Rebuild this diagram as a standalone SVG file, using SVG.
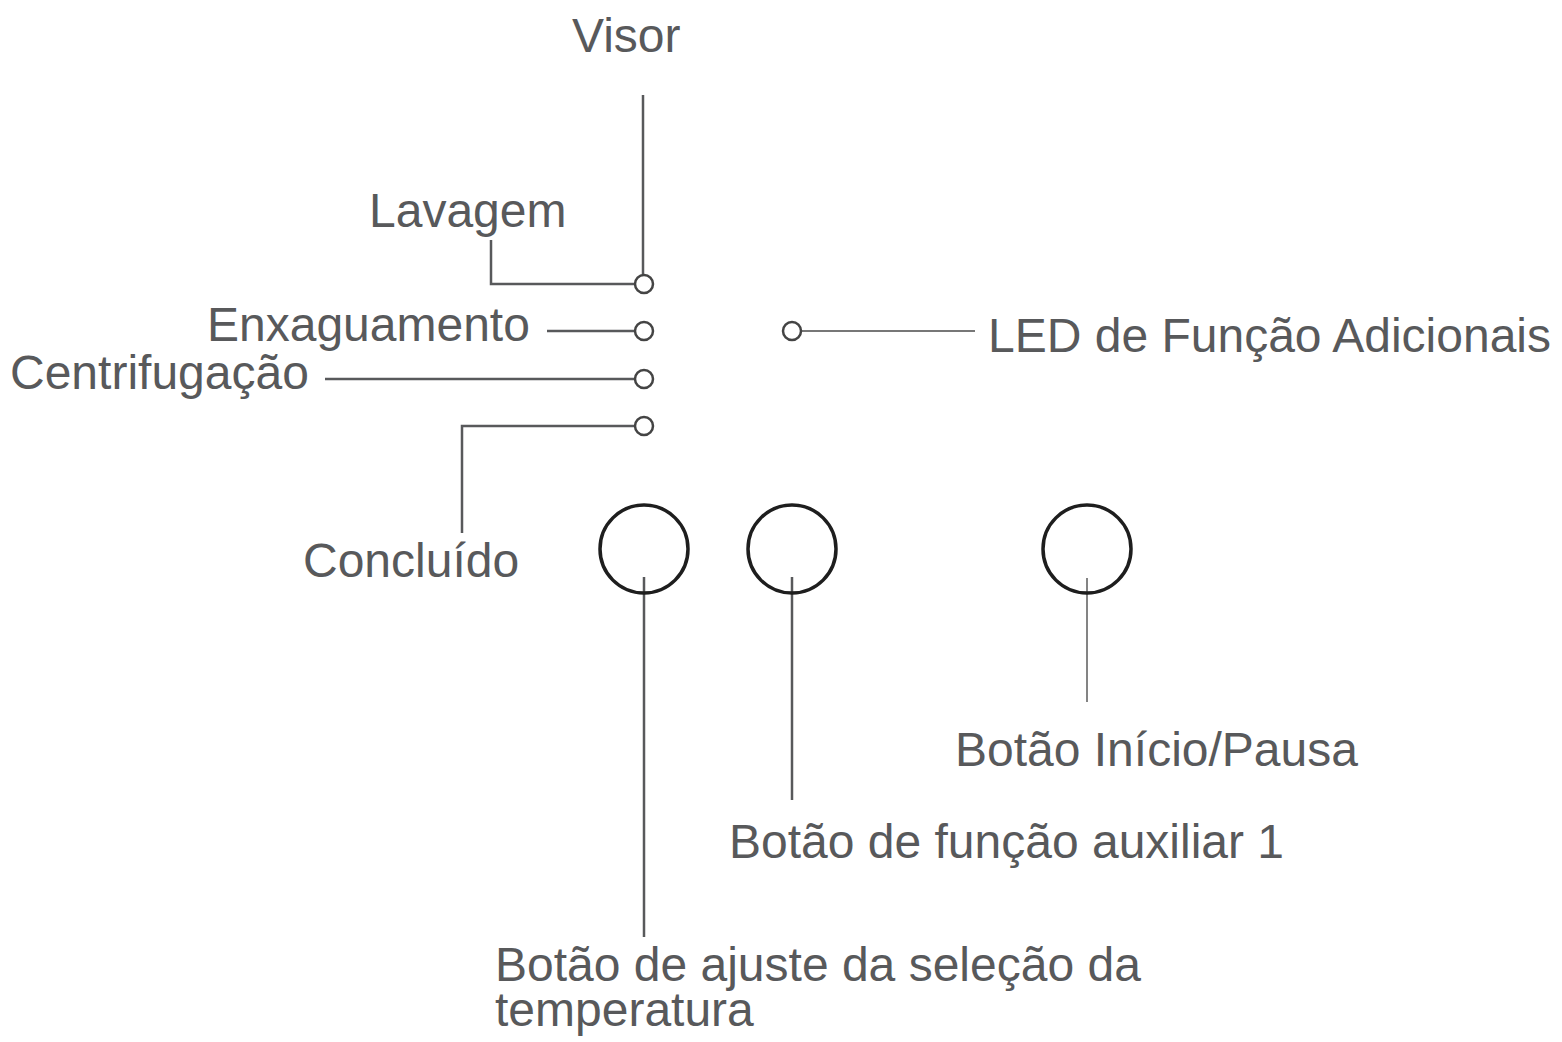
<svg xmlns="http://www.w3.org/2000/svg" width="1562" height="1042" viewBox="0 0 1562 1042">
<style>
text{font-family:"Liberation Sans",Arial,sans-serif;font-size:48px;fill:#58595b}
.ln{fill:none;stroke:#58595b;stroke-width:2.5}
.thin{fill:none;stroke:#777;stroke-width:1.8}
.led{fill:#fff;stroke:#444;stroke-width:2.5}
.btn{fill:none;stroke:#1e1e1e;stroke-width:3.5}
</style>
<rect width="1562" height="1042" fill="#fff"/>
<g id="connectors">
<path class="ln" d="M643 95V275"/>
<path class="ln" d="M491 240V284H635"/>
<path class="ln" d="M547 331H635"/>
<path class="ln" d="M325 379H635"/>
<path class="ln" d="M462 533V426H635"/>
<path class="thin" d="M801 331H975"/>
<path class="ln" d="M644 577V937"/>
<path class="ln" d="M792 577V800"/>
<path class="thin" d="M1087 578V702"/>
</g>
<g id="led-lavagem"><circle class="led" cx="644" cy="284" r="9"/></g>
<g id="led-enxaguamento"><circle class="led" cx="644" cy="331" r="9"/></g>
<g id="led-centrifugacao"><circle class="led" cx="644" cy="379" r="9"/></g>
<g id="led-concluido"><circle class="led" cx="644" cy="426" r="9"/></g>
<g id="led-funcao"><circle class="led" cx="792" cy="331" r="9"/></g>
<g id="btn-temp"><circle class="btn" cx="644" cy="549" r="44"/></g>
<g id="btn-aux"><circle class="btn" cx="792" cy="549" r="44"/></g>
<g id="btn-start"><circle class="btn" cx="1087" cy="549" r="44"/></g>
<g id="lbl-visor"><text x="572" y="52">Visor</text></g>
<g id="lbl-lavagem"><text x="369" y="227">Lavagem</text></g>
<g id="lbl-enxaguamento"><text x="207" y="341">Enxaguamento</text></g>
<g id="lbl-centrifugacao"><text x="10" y="389">Centrifugação</text></g>
<g id="lbl-concluido"><text x="303" y="577">Concluído</text></g>
<g id="lbl-led"><text x="988" y="352">LED de Função Adicionais</text></g>
<g id="lbl-start"><text x="955" y="766">Botão Início/Pausa</text></g>
<g id="lbl-aux"><text x="729" y="858">Botão de função auxiliar 1</text></g>
<g id="lbl-temp"><text x="495" y="981">Botão de ajuste da seleção da</text><text x="495" y="1026">temperatura</text></g>
</svg>
